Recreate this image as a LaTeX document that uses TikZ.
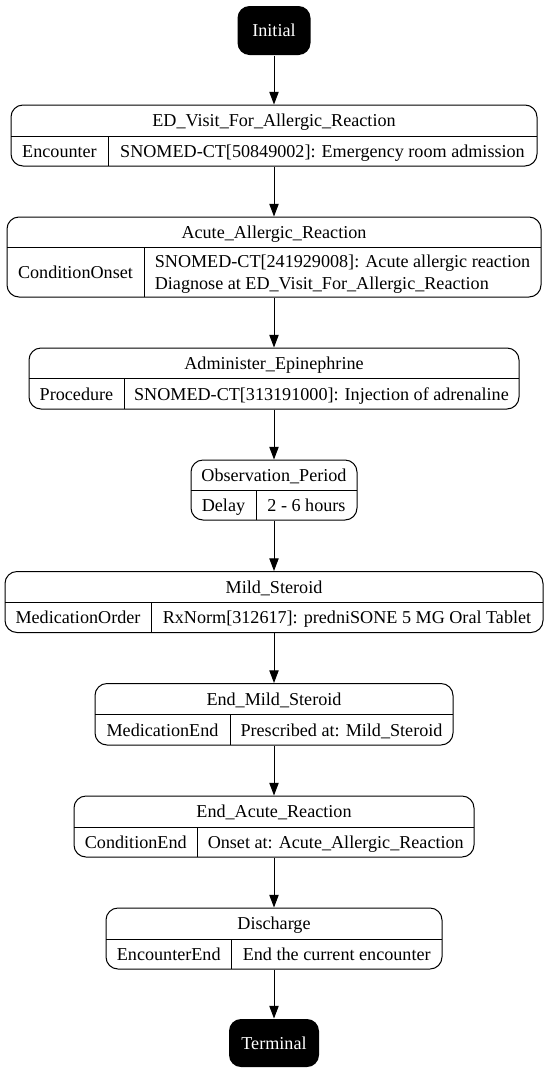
\documentclass[tikz,border=0pt]{standalone}
\usepackage{fontspec}
\setmainfont{Liberation Serif}
\usetikzlibrary{arrows.meta,fit}
\begin{document}
\begin{tikzpicture}[x=.75pt,y=-.75pt,line width=.75pt,
		every node/.style={font=\fontsize{13.6}{16.8}\selectfont,inner sep=0pt},
		rec/.style={draw,fill=white,rounded corners=9pt},
		term/.style={fill=black,rounded corners=9pt},
		txt/.style={text height=11pt,text depth=1.5pt},
		flow/.style={-{Triangle[length=9.5pt,width=7pt]}}]
		\path[fill=white,use as bounding box] (0,0) rectangle (549,1075);
		% start and end
		\node[term,fit={(237.5,6) (310.5,55)}] (init) {};
		\node[txt,text=white] (init-name) at (init) {Initial};
		\node[term,fit={(229,1019) (319,1067)}] (term) {};
		\node[txt,text=white] (term-name) at (term) {Terminal};
		% ED_Visit_For_Allergic_Reaction
		\node[rec,fit={(11,105) (537,166)}] (ed) {};
		\draw (11,136)--(537,136) (108,136)--(108,166);
		\node[txt] (ed-name) at (274,120.5) {ED\_Visit\_For\_Allergic\_Reaction};
		\node[txt] (ed-type) at (59.5,151) {Encounter};
		\node[txt] (ed-code) at (322.5,151) {SNOMED-CT[50849002]: Emergency room admission};
		% Acute_Allergic_Reaction
		\node[rec,fit={(7,217) (541,297)}] (acute) {};
		\draw (7,247)--(541,247) (144,247)--(144,297);
		\node[txt] (acute-name) at (274,232) {Acute\_Allergic\_Reaction};
		\node[txt] (acute-type) at (75.5,272) {ConditionOnset};
		\node[align=left,yshift=-1.5pt] (acute-code) at (342.5,272) {SNOMED-CT[241929008]: Acute allergic reaction\\Diagnose at ED\_Visit\_For\_Allergic\_Reaction};
		% Administer_Epinephrine
		\node[rec,fit={(29,348) (519,409)}] (epi) {};
		\draw (29,378.5)--(519,378.5) (124,378.5)--(124,409);
		\node[txt] (epi-name) at (274,363) {Administer\_Epinephrine};
		\node[txt] (epi-type) at (76.5,394) {Procedure};
		\node[txt] (epi-code) at (321.5,394) {SNOMED-CT[313191000]: Injection of adrenaline};
		% Observation_Period
		\node[rec,fit={(191,460) (357,520)}] (obs) {};
		\draw (191,490.5)--(357,490.5) (256,490.5)--(256,520);
		\node[txt] (obs-name) at (274,475) {Observation\_Period};
		\node[txt] (obs-type) at (223.5,505.5) {Delay};
		\node[txt] (obs-code) at (306.5,505.5) {2 - 6 hours};
		% Mild_Steroid
		\node[rec,fit={(5,571.5) (543,632.5)}] (mild) {};
		\draw (5,602)--(543,602) (151,602)--(151,632.5);
		\node[txt] (mild-name) at (274,587) {Mild\_Steroid};
		\node[txt] (mild-type) at (78,617.5) {MedicationOrder};
		\node[txt] (mild-code) at (347,617.5) {RxNorm[312617]: predniSONE 5 MG Oral Tablet};
		% End_Mild_Steroid
		\node[rec,fit={(95,683.5) (453,745)}] (endmild) {};
		\draw (95,714.5)--(453,714.5) (230,714.5)--(230,745);
		\node[txt] (endmild-name) at (274,699) {End\_Mild\_Steroid};
		\node[txt] (endmild-type) at (162.5,730) {MedicationEnd};
		\node[txt] (endmild-code) at (341.5,730) {Prescribed at: Mild\_Steroid};
		% End_Acute_Reaction
		\node[rec,fit={(74,796) (474,857)}] (endacute) {};
		\draw (74,827)--(474,827) (197.5,827)--(197.5,857);
		\node[txt] (endacute-name) at (274,811.5) {End\_Acute\_Reaction};
		\node[txt] (endacute-type) at (135.75,842) {ConditionEnd};
		\node[txt] (endacute-code) at (335.75,842) {Onset at: Acute\_Allergic\_Reaction};
		% Discharge
		\node[rec,fit={(106,908) (442,969)}] (dis) {};
		\draw (106,939)--(442,939) (231.5,939)--(231.5,969);
		\node[txt] (dis-name) at (274,923.5) {Discharge};
		\node[txt] (dis-type) at (168.75,954) {EncounterEnd};
		\node[txt] (dis-code) at (336.75,954) {End the current encounter};
		% transitions
		\draw[flow] (init)--(init|-ed.north);
		\draw[flow] (init|-ed.south)--(init|-acute.north);
		\draw[flow] (init|-acute.south)--(init|-epi.north);
		\draw[flow] (init|-epi.south)--(init|-obs.north);
		\draw[flow] (init|-obs.south)--(init|-mild.north);
		\draw[flow] (init|-mild.south)--(init|-endmild.north);
		\draw[flow] (init|-endmild.south)--(init|-endacute.north);
		\draw[flow] (init|-endacute.south)--(init|-dis.north);
		\draw[flow] (init|-dis.south)--(term);
	\end{tikzpicture}
\end{document}
